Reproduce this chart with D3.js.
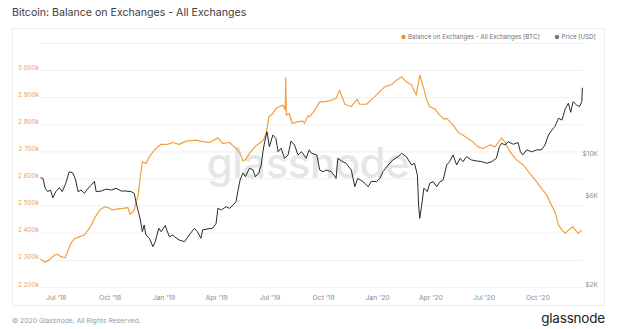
<!DOCTYPE html>
<html><head><meta charset="utf-8">
<script src="https://cdn.jsdelivr.net/npm/d3@7"></script>
<style>
html,body{margin:0;padding:0;background:#fff;}
svg{display:block;font-family:Inter,Roboto,"Noto Sans",sans-serif;}
</style></head>
<body><svg id="c" width="618" height="329"></svg>
<script>
const balanceTicks = [2200,2300,2400,2500,2600,2700,2800,2900,3000];
const priceTicks = [2000,6000,10000];
const xTickDates = ["2018-07-01","2018-10-01","2019-01-01","2019-04-01","2019-07-01","2019-10-01","2020-01-01","2020-04-01","2020-07-01","2020-10-01"];

const balance = [
["2018-06-05",2303],["2018-06-12",2291],["2018-06-20",2300],["2018-06-29",2318],["2018-07-04",2320],["2018-07-10",2312],["2018-07-17",2308],["2018-07-21",2330],["2018-07-27",2361],["2018-08-01",2377],["2018-08-10",2385],["2018-08-19",2392],["2018-08-25",2410],["2018-08-31",2429],["2018-09-05",2453],["2018-09-14",2484],["2018-09-23",2496],["2018-09-28",2493],["2018-10-06",2484],["2018-10-15",2488],["2018-10-24",2490],["2018-11-01",2493],["2018-11-05",2468],["2018-11-12",2484],["2018-11-15",2514],["2018-11-19",2539],["2018-11-22",2601],["2018-11-26",2662],["2018-12-02",2656],["2018-12-08",2680],["2018-12-14",2699],["2018-12-22",2717],["2018-12-28",2726],["2019-01-08",2726],["2019-01-17",2733],["2019-01-28",2726],["2019-02-09",2738],["2019-02-26",2742],["2019-03-09",2736],["2019-03-21",2733],["2019-04-04",2750],["2019-04-12",2730],["2019-04-24",2733],["2019-05-02",2717],["2019-05-08",2705],["2019-05-12",2693],["2019-05-17",2665],["2019-05-22",2672],["2019-05-28",2693],["2019-06-06",2717],["2019-06-14",2730],["2019-06-21",2742],["2019-06-26",2772],["2019-06-30",2827],["2019-07-07",2840],["2019-07-12",2858],["2019-07-18",2865],["2019-07-24",2871],["2019-07-28",2853],["2019-07-29",2972],["2019-07-30",2834],["2019-08-04",2840],["2019-08-09",2803],["2019-08-19",2810],["2019-08-27",2812],["2019-08-30",2803],["2019-09-05",2832],["2019-09-08",2828],["2019-09-17",2853],["2019-09-25",2883],["2019-10-03",2883],["2019-10-15",2889],["2019-10-23",2896],["2019-10-29",2926],["2019-11-01",2908],["2019-11-07",2874],["2019-11-18",2865],["2019-11-28",2893],["2019-12-02",2874],["2019-12-14",2874],["2019-12-28",2902],["2020-01-14",2938],["2020-01-26",2947],["2020-02-03",2963],["2020-02-12",2975],["2020-02-20",2957],["2020-02-29",2945],["2020-03-08",2908],["2020-03-14",2982],["2020-03-20",2938],["2020-03-26",2889],["2020-03-31",2865],["2020-04-09",2856],["2020-04-17",2834],["2020-04-25",2819],["2020-04-29",2822],["2020-05-10",2797],["2020-05-19",2770],["2020-05-31",2754],["2020-06-11",2738],["2020-06-22",2717],["2020-07-01",2711],["2020-07-12",2724],["2020-07-21",2717],["2020-07-26",2733],["2020-08-01",2750],["2020-08-07",2733],["2020-08-15",2699],["2020-08-27",2668],["2020-09-07",2650],["2020-09-18",2619],["2020-09-30",2588],["2020-10-08",2564],["2020-10-17",2539],["2020-10-25",2502],["2020-10-31",2478],["2020-11-06",2429],["2020-11-12",2410],["2020-11-18",2398],["2020-11-23",2410],["2020-12-01",2422],["2020-12-05",2410],["2020-12-10",2398],["2020-12-16",2410]
];

const price = [
["2018-06-05",7710],["2018-06-09",7640],["2018-06-13",6765],["2018-06-17",6490],["2018-06-22",6620],["2018-06-26",6020],["2018-07-01",6490],["2018-07-07",6810],["2018-07-12",6490],["2018-07-18",7190],["2018-07-24",8300],["2018-07-30",8180],["2018-08-04",7500],["2018-08-08",6490],["2018-08-13",6620],["2018-08-19",6360],["2018-08-25",6765],["2018-08-31",7050],["2018-09-05",7370],["2018-09-08",6490],["2018-09-17",6540],["2018-09-25",6700],["2018-10-04",6620],["2018-10-12",6765],["2018-10-21",6540],["2018-10-29",6540],["2018-11-07",6490],["2018-11-12",6360],["2018-11-15",5730],["2018-11-19",5070],["2018-11-22",4670],["2018-11-26",3960],["2018-11-29",4300],["2018-12-02",3800],["2018-12-08",3650],["2018-12-14",3290],["2018-12-18",3500],["2018-12-24",4130],["2018-12-28",3960],["2019-01-04",4270],["2019-01-11",3720],["2019-01-17",3800],["2019-01-20",3720],["2019-01-28",3570],["2019-02-06",3500],["2019-02-14",3800],["2019-02-23",4130],["2019-02-28",3960],["2019-03-06",3650],["2019-03-09",4050],["2019-03-18",4100],["2019-03-26",4130],["2019-04-01",4390],["2019-04-04",5280],["2019-04-10",5180],["2019-04-18",5390],["2019-04-24",5280],["2019-04-30",5500],["2019-05-05",5730],["2019-05-08",6490],["2019-05-12",7500],["2019-05-17",8180],["2019-05-21",7800],["2019-05-28",8660],["2019-06-03",8500],["2019-06-07",7800],["2019-06-13",8180],["2019-06-17",9020],["2019-06-20",10620],["2019-06-23",12020],["2019-06-27",13610],["2019-07-01",11300],["2019-07-07",13060],["2019-07-12",12540],["2019-07-16",10620],["2019-07-21",11090],["2019-07-27",9800],["2019-08-02",10210],["2019-08-07",12130],["2019-08-13",11540],["2019-08-19",10210],["2019-08-25",10620],["2019-09-02",9800],["2019-09-07",10870],["2019-09-11",10420],["2019-09-20",10210],["2019-09-25",8480],["2019-10-01",8300],["2019-10-06",8480],["2019-10-15",8300],["2019-10-23",7650],["2019-10-26",9800],["2019-11-01",9480],["2019-11-09",9210],["2019-11-18",8480],["2019-11-24",6900],["2019-11-29",7650],["2019-12-08",7340],["2019-12-17",6900],["2019-12-22",7370],["2019-12-31",7340],["2020-01-06",7650],["2020-01-11",8300],["2020-01-20",9020],["2020-01-28",9600],["2020-02-06",10000],["2020-02-12",10420],["2020-02-20",10000],["2020-02-29",9020],["2020-03-05",9210],["2020-03-10",7960],["2020-03-12",5500],["2020-03-14",4670],["2020-03-17",5390],["2020-03-21",6765],["2020-03-27",6490],["2020-03-31",7190],["2020-04-06",7340],["2020-04-12",6900],["2020-04-17",7300],["2020-04-23",7500],["2020-04-29",9020],["2020-05-04",9400],["2020-05-10",10210],["2020-05-16",9020],["2020-05-22",9800],["2020-05-27",9400],["2020-06-02",10000],["2020-06-10",9600],["2020-06-19",9480],["2020-06-28",9400],["2020-07-06",9210],["2020-07-15",9400],["2020-07-23",9800],["2020-07-28",11300],["2020-08-01",11790],["2020-08-07",11540],["2020-08-12",12020],["2020-08-21",11650],["2020-08-29",11900],["2020-09-02",10620],["2020-09-06",10210],["2020-09-13",10870],["2020-09-21",10620],["2020-09-30",10870],["2020-10-08",10870],["2020-10-14",11540],["2020-10-20",13060],["2020-10-26",13900],["2020-10-31",14490],["2020-11-06",16060],["2020-11-12",15700],["2020-11-18",18160],["2020-11-23",19320],["2020-11-27",17290],["2020-12-01",19720],["2020-12-07",18920],["2020-12-12",18540],["2020-12-16",19720],["2020-12-17",23400]
];

const parse = d3.timeParse("%Y-%m-%d");
const svg = d3.select("#c");
const L = 40, R = 583, T = 43, B = 287;

const x = d3.scaleTime().domain([parse("2018-06-04"), parse("2020-12-18")]).range([L, R]);
const yB = d3.scaleLinear().domain([2200, 3100]).range([B, T]);
const yP = d3.scaleLog().domain([2000, 40660]).range([B, T]);

// title
svg.append("text").attr("x", 12).attr("y", 16).attr("font-size", 10.6).attr("fill", "#3d3d3d")
  .text("Bitcoin: Balance on Exchanges - All Exchanges");

// panel
svg.append("rect").attr("x", 12.5).attr("y", 28.5).attr("width", 592).attr("height", 277)
  .attr("fill", "none").attr("stroke", "#ececec");

// gridlines
svg.append("g").selectAll("line").data(balanceTicks.concat([3100])).join("line")
  .attr("x1", L).attr("x2", R).attr("y1", d => yB(d) + 0.5).attr("y2", d => yB(d) + 0.5)
  .attr("stroke", "#f0f0f0");

// watermark
svg.append("text").attr("x", 308).attr("y", 178).attr("text-anchor", "middle")
  .attr("font-size", 42).attr("font-weight", 500).attr("fill", "#e6e6e6").attr("letter-spacing", -0.5)
  .text("glassnode");

// left axis
const gl = svg.append("g").attr("transform", `translate(${L},0)`)
  .call(d3.axisLeft(yB).tickValues(balanceTicks).tickSize(0).tickPadding(1)
    .tickFormat(d => d3.format(",")(d).replace(",", " ") + "k"));
gl.select(".domain").remove();
gl.selectAll("text").attr("dy", 0).attr("y", -1).attr("font-size", 6.3).attr("fill", "#e2a261")
  .attr("font-family", "Inter,Roboto,sans-serif");

// right axis
const gr = svg.append("g").attr("transform", `translate(${R},0)`)
  .call(d3.axisRight(yP).tickValues(priceTicks).tickSize(0)
    .tickFormat(d => "$" + (d / 1000) + "K"));
gr.select(".domain").remove();
gr.selectAll("text").attr("dy", 0).attr("y", -1).attr("x", 15).attr("text-anchor", "end")
  .attr("font-size", 6.6).attr("fill", "#8a8a8a").attr("font-family", "Inter,Roboto,sans-serif");

// x axis
const gx = svg.append("g").attr("transform", `translate(0,${B})`)
  .call(d3.axisBottom(x).tickValues(xTickDates.map(parse)).tickSize(0)
    .tickFormat(d3.timeFormat("%b '%y")));
gx.select(".domain").remove();
gx.selectAll("text").attr("dy", 0).attr("y", 12.5).attr("font-size", 6.8).attr("fill", "#8a8a8a")
  .attr("font-family", "Inter,Roboto,sans-serif");

// lines
const lineB = d3.line().x(d => x(parse(d[0]))).y(d => yB(d[1]));
const lineP = d3.line().x(d => x(parse(d[0]))).y(d => yP(d[1]));
svg.append("path").datum(balance).attr("d", lineB).attr("fill", "none")
  .attr("stroke", "#f2a03d").attr("stroke-width", 1.2).attr("stroke-linejoin", "round");
svg.append("path").datum(price).attr("d", lineP).attr("fill", "none")
  .attr("stroke", "#2a2a2a").attr("stroke-width", 1).attr("stroke-linejoin", "round");

// legend
const lg = svg.append("g");
lg.append("circle").attr("cx", 403.5).attr("cy", 37).attr("r", 2.2).attr("fill", "#f7931a");
lg.append("text").attr("x", 408).attr("y", 39.2).attr("font-size", 6.2).attr("fill", "#707070")
  .text("Balance on Exchanges - All Exchanges [BTC]");
lg.append("circle").attr("cx", 557).attr("cy", 37).attr("r", 2.2).attr("fill", "#777");
lg.append("text").attr("x", 561.5).attr("y", 39.2).attr("font-size", 6.2).attr("fill", "#707070")
  .text("Price [USD]");

// footer
svg.append("text").attr("x", 12).attr("y", 322.5).attr("font-size", 6.8).attr("fill", "#9a9a9a")
  .text("© 2020 Glassnode. All Rights Reserved.");
svg.append("text").attr("x", 605).attr("y", 323).attr("text-anchor", "end").attr("font-size", 13.5)
  .attr("fill", "#222").attr("letter-spacing", -0.2).text("glassnode");
</script></body></html>
